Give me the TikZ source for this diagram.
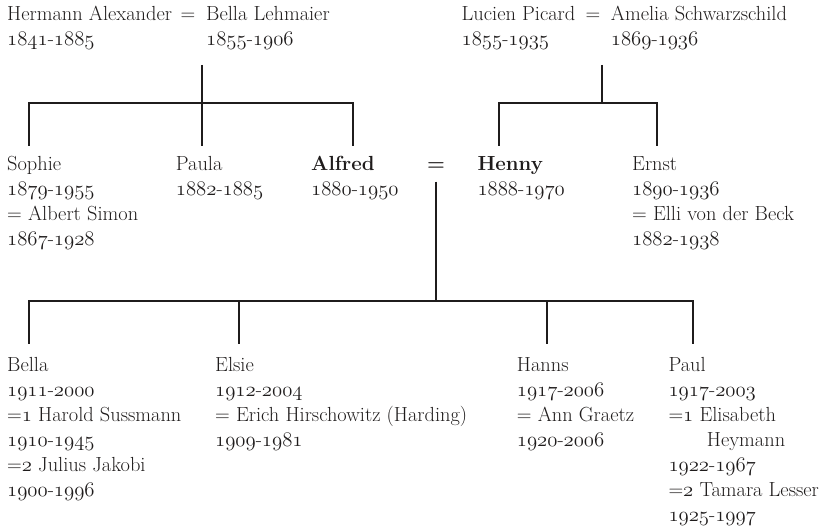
\documentclass[tikz,border=0pt]{standalone}
\usepackage{fontspec}
\setmainfont{Latin Modern Roman}
\newcommand\osf[1]{{\fontsize{22.8}{25}\usefont{OML}{lmm}{m}{it}#1}}
\newcommand\yr[2]{\osf{#1}-\osf{#2}}
\newcommand\pers[1]{\begin{tabular}[t]{@{}l@{}}#1\end{tabular}}
\definecolor{ink}{rgb}{0.12,0.11,0.11}
\begin{document}
\begin{tikzpicture}[x=1pt,y=-1pt,
  every node/.style={inner sep=0pt, text=ink, font=\fontsize{20.4}{25}\selectfont},
  link/.style={draw=ink, line width=1.9pt}]
\useasboundingbox (0,0) rectangle (828,529);
% top generation
\node[anchor=base west] (hermann) at (7,21) {\pers{Hermann Alexander\\\yr{1841}{1885}}};
\node[anchor=base] (eqA) at (188,21) {=};
\node[anchor=base west] (bellaL) at (206,21) {\pers{Bella Lehmaier\\\yr{1855}{1906}}};
\node[anchor=base west] (lucien) at (461.5,21) {\pers{Lucien Picard\\\yr{1855}{1935}}};
\node[anchor=base] (eqB) at (593,21) {=};
\node[anchor=base west] (amelia) at (610.7,21) {\pers{Amelia Schwarzschild\\\yr{1869}{1936}}};
% middle generation
\node[anchor=base west] (sophie) at (7,170.5) {\pers{Sophie\\\yr{1879}{1955}\\= Albert Simon\\\yr{1867}{1928}}};
\node[anchor=base west] (paula) at (175.7,170.5) {\pers{Paula\\\yr{1882}{1885}}};
\node[anchor=base west] (alfred) at (311,170.5) {\pers{\textbf{Alfred}\\\yr{1880}{1950}}};
\node[anchor=base] (eqC) at (436,170.5) {\textbf{=}};
\node[anchor=base west] (henny) at (477.3,170.5) {\pers{\textbf{Henny}\\\yr{1888}{1970}}};
\node[anchor=base west] (ernst) at (632,170.5) {\pers{Ernst\\\yr{1890}{1936}\\= Elli von der Beck\\\yr{1882}{1938}}};
% bottom generation
\node[anchor=base west] (bella) at (7,372) {\pers{Bella\\\yr{1911}{2000}\\=\osf{1} Harold Sussmann\\\yr{1910}{1945}\\=\osf{2} Julius Jakobi\\\yr{1900}{1996}}};
\node[anchor=base west] (elsie) at (215,372) {\pers{Elsie\\\yr{1912}{2004}\\= Erich Hirschowitz (Harding)\\\yr{1909}{1981}}};
\node[anchor=base west] (hanns) at (516.7,372) {\pers{Hanns\\\yr{1917}{2006}\\= Ann Graetz\\\yr{1920}{2006}}};
\node[anchor=base west] (paul) at (668.3,372) {\pers{Paul\\\yr{1917}{2003}\\=\osf{1} Elisabeth\\\hspace*{38.4pt}Heymann\\\yr{1922}{1967}\\=\osf{2} Tamara Lesser\\\yr{1925}{1997}}};
% connector points
\coordinate (srcA) at (202,65);
\coordinate (srcB) at (601.7,65);
\coordinate (srcC) at (435.7,181.7);
\coordinate (sophieT) at (29.3,146);
\coordinate (paulaT) at (202,146);
\coordinate (alfredT) at (353.3,146);
\coordinate (hennyT) at (499,146);
\coordinate (ernstT) at (657.3,146);
\coordinate (barB) at (601.7,103.3);
\coordinate (barC) at (435.7,300.7);
\coordinate (bellaT) at (29.3,344);
\coordinate (elsieT) at (238.7,344);
\coordinate (hannsT) at (547,344);
\coordinate (paulT) at (693.3,344);
% connectors
\draw[link] (sophieT) -- ++(0,-42.7) -| (alfredT);
\draw[link] (srcA) -- (paulaT);
\draw[link] (hennyT) -- ++(0,-42.7) -| (ernstT);
\draw[link] (srcB) -- (barB);
\draw[link] (srcC) -- (barC);
\draw[link] (bellaT) -- ++(0,-43.3) -| (paulT);
\draw[link] (elsieT) -- ++(0,-43.3);
\draw[link] (hannsT) -- ++(0,-43.3);
\end{tikzpicture}
\end{document}
